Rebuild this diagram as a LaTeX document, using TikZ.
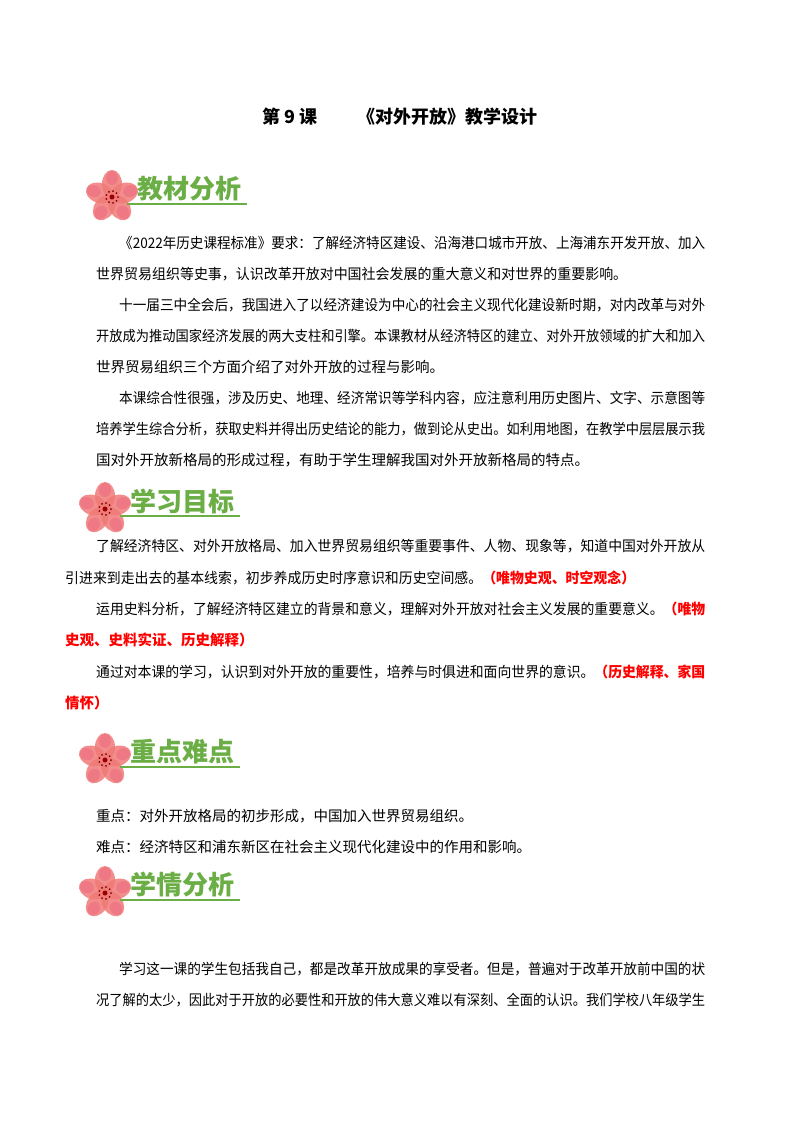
\documentclass[tikz,border=0pt]{standalone}
\usepackage{fontspec}
\setmainfont{Noto Sans CJK SC}
\definecolor{hgreen}{HTML}{6AAE45}
\definecolor{petal}{HTML}{F07A78}
\definecolor{petalb}{HTML}{E8557A}
\tikzset{
  tx/.style={anchor=west,inner sep=0pt,font=\fontsize{14.5}{14.5}\selectfont},
  hd/.style={anchor=west,inner sep=0pt,text=hgreen,font=\fontsize{26}{26}\selectfont\bfseries},
}
\newcommand{\fitw}[2]{\resizebox{#1pt}{\height}{#2}}
\newcommand{\flower}[2]{%
  \begin{scope}[shift={(#1,#2)}]
    \foreach \a in {90,162,234,306,18}{
      \fill[petal,opacity=0.85,rotate=\a] (13,0) ellipse (14 and 10);
      \fill[petalb,opacity=0.35,rotate=\a] (19,0) ellipse (7 and 6);
    }
    \fill[red!60!black] (0,0) circle (2.5);
    \foreach \a in {0,40,...,320}{\fill[red!50!black] (\a:6) circle (1);}
  \end{scope}}
\newcommand{\heading}[4]{%
  \flower{#1}{#2}
  \node[hd] (#4) at (#1+25,#2-8) {#3};
  \draw[hgreen,line width=1.5pt] (#1+15,#2+7) -- (#1+135,#2+7);}
\begin{document}
\begin{tikzpicture}[x=1pt,y=-1pt]
\useasboundingbox[fill=white] (0,0) rectangle (800,1132);
\node[anchor=center,inner sep=0pt,font=\fontsize{18}{18}\selectfont\bfseries] (title) at (400,117) {第 9 课\hspace{2.2em}《对外开放》教学设计};

\heading{112}{197}{教材分析}{h1}
\node[tx] (p1a) at (119,243) {\fitw{586}{《2022年历史课程标准》要求：了解经济特区建设、沿海港口城市开放、上海浦东开发开放、加入}};
\node[tx] (p1b) at (96,274) {\fitw{531}{世界贸易组织等史事，认识改革开放对中国社会发展的重大意义和对世界的重要影响。}};
\node[tx] (p2a) at (119,305) {\fitw{586}{十一届三中全会后，我国进入了以经济建设为中心的社会主义现代化建设新时期，对内改革与对外}};
\node[tx] (p2b) at (96,336) {\fitw{609}{开放成为推动国家经济发展的两大支柱和引擎。本课教材从经济特区的建立、对外开放领域的扩大和加入}};
\node[tx] (p2c) at (96,367) {世界贸易组织三个方面介绍了对外开放的过程与影响。};
\node[tx] (p3a) at (119,398) {\fitw{586}{本课综合性很强，涉及历史、地理、经济常识等学科内容，应注意利用历史图片、文字、示意图等}};
\node[tx] (p3b) at (96,429) {\fitw{609}{培养学生综合分析，获取史料并得出历史结论的能力，做到论从史出。如利用地图，在教学中层层展示我}};
\node[tx] (p3c) at (96,460) {国对外开放新格局的形成过程，有助于学生理解我国对外开放新格局的特点。};

\heading{105}{509}{学习目标}{h2}
\node[tx] (g1a) at (96,546) {\fitw{609}{了解经济特区、对外开放格局、加入世界贸易组织等重要事件、人物、现象等，知道中国对外开放从}};
\node[tx] (g1b) at (65,578) {\fitw{570}{引进来到走出去的基本线索，初步养成历史时序意识和历史空间感。\textcolor{red}{\bfseries （唯物史观、时空观念）}}};
\node[tx] (g2a) at (96,609) {\fitw{609}{运用史料分析，了解经济特区建立的背景和意义，理解对外开放对社会主义发展的重要意义。\textcolor{red}{\bfseries （唯物}}};
\node[tx,text=red,font=\fontsize{14.5}{14.5}\selectfont\bfseries] (g2b) at (65,640) {史观、史料实证、历史解释）};
\node[tx] (g3a) at (96,672) {\fitw{609}{通过对本课的学习，认识到对外开放的重要性，培养与时俱进和面向世界的意识。\textcolor{red}{\bfseries （历史解释、家国}}};
\node[tx,text=red,font=\fontsize{14.5}{14.5}\selectfont\bfseries] (g3b) at (65,703) {情怀）};

\heading{105}{760}{重点难点}{h3}
\node[tx] (k1) at (96,816) {重点：对外开放格局的初步形成，中国加入世界贸易组织。};
\node[tx] (k2) at (96,847) {难点：经济特区和浦东新区在社会主义现代化建设中的作用和影响。};

\heading{105}{893}{学情分析}{h4}
\node[tx] (s1) at (119,969) {\fitw{586}{学习这一课的学生包括我自己，都是改革开放成果的享受者。但是，普遍对于改革开放前中国的状}};
\node[tx] (s2) at (96,1000) {\fitw{609}{况了解的太少，因此对于开放的必要性和开放的伟大意义难以有深刻、全面的认识。我们学校八年级学生}};
\end{tikzpicture}
\end{document}
